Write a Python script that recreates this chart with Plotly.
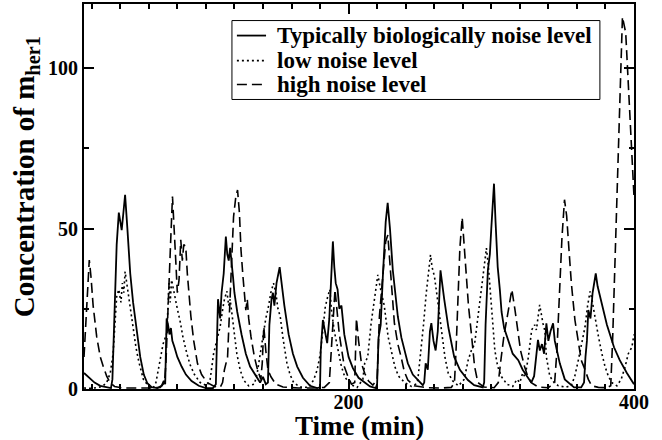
import plotly.graph_objects as go

# ---- data ----
t_typ = [14.6, 18, 22, 26, 30, 33.5, 34.5, 36, 37.5, 39, 40, 41, 42, 43.4, 45, 47, 49, 52, 54, 56.5, 59, 62, 66, 69, 70.5, 71.5,
         72.5, 73.5, 74.5, 75.5, 76.5, 78, 80, 83, 86, 90, 95, 100, 105, 107, 108.5, 110, 111, 112.5, 114, 115, 116, 117, 118,
         119, 120, 122, 125, 128, 131, 135, 138, 140, 142, 143.5, 144.5, 146, 147, 148, 149.5, 151.7, 153, 155, 158, 161, 164,
         168, 173, 178, 180, 180.5, 182, 183.5, 185, 186.5, 188, 189, 190, 191, 192.3, 193.5, 195, 197, 200, 203, 207, 211,
         215, 219, 220, 221, 222.5, 224, 226, 227.4, 229, 231, 234.5, 237, 241.5, 245, 248.5, 252, 253, 254, 255.5, 257, 258,
         259.5, 261, 262.5, 264.4, 265.5, 267, 270, 274, 278, 283.6, 288, 294, 295, 296, 297.6, 299, 300, 301.9, 303, 304.5,
         306, 307.2, 309, 312, 315, 318.9, 322, 325, 328, 330, 331.5, 332.7, 334, 335.5, 337, 338.6, 340, 341.5, 343.3, 344.5,
         346, 348, 351.5, 355, 358, 363, 365, 366, 367, 368, 369.5, 371, 373.2, 374.5, 376.7, 378.5, 381, 386, 390, 395, 400]
y_typ = [5.0, 3.5, 2.0, 1.0, 0.5, 0.3, 3, 25, 45, 55, 52, 49.5, 54, 60.5, 50, 36, 27, 16.5, 10, 4.5, 1.8, 0.6, 0.3, 1, 2.5, 1.5,
         22, 20, 17, 19, 15, 13, 10, 7, 4.5, 2.5, 1, 0.3, 0.3, 1.5, 28, 22, 30, 36, 47.5, 42, 40, 44, 38,
         35, 30, 24, 17, 11, 7, 4, 2, 3.8, 1.5, 2, 20, 28, 30, 26, 33, 38, 33, 26, 17, 11, 7,
         3.5, 1, 0.3, 0.5, 12, 21.5, 18, 14.3, 22, 38, 46, 38, 33, 31, 25, 26, 17, 10, 6.5, 3.5, 2,
         0.8, 0.3, 1.5, 16, 20, 35, 52, 58, 50, 37, 22.6, 16, 8, 4.5, 2.8, 1.2, 2, 8, 6, 18, 20.5,
         15, 12, 18, 37, 33, 28, 19, 10, 6, 2.8, 1.2, 0.5, 2, 20, 37, 42, 50, 64, 52, 38,
         31, 24, 19, 15, 11, 9, 6, 4, 2, 4, 10, 15.3, 12, 14, 11, 20.5, 15, 18, 20.5, 15,
         12, 8, 3, 1.5, 0.5, 0.5, 2, 10, 15, 24.6, 22, 30, 36, 32, 27.8, 25, 20, 13, 9, 5, 1.5]

t_low = [14.6, 20, 25, 28, 30.5, 33, 35, 36.5, 37.5, 39, 40.5, 41.5, 42.5, 43.4, 44.5, 46, 47.5, 49.2, 51, 53, 56.2, 60, 63, 65,
         67.9, 70, 72.6, 73.5, 74.2, 75, 76, 77.3, 78.5, 80, 82, 84, 86.7, 89, 92, 96, 100.7, 103, 105.4, 107, 108.5, 110,
         111.5, 113, 114.7, 116, 117, 118.5, 120, 121.7, 124, 126.4, 130, 134, 136, 138.1, 140.4, 142, 144, 145.5, 147.4, 149,
         150.5, 152.1, 154, 156.8, 159, 161.5, 166, 172, 175.5, 178, 180.2, 182, 183.7, 185.5, 186.9, 188, 190, 192.7, 195,
         197.3, 201, 206, 210, 211.3, 213.4, 215.8, 218, 220.5, 222, 223.5, 225, 227.7, 229.8, 232.4, 235, 239.4, 244, 247,
         248.5, 250.9, 252.5, 254.4, 256, 257.4, 258.5, 260.2, 262, 264, 265.5, 267.5, 269.8, 273, 277, 281, 283.8, 286, 288.3,
         290.7, 292.5, 294.5, 296.6, 298, 299, 300.5, 302.5, 304.5, 307.2, 311, 315, 318, 320, 322, 323.6, 326, 328.3, 330.4,
         331.6, 333.9, 335, 336.2, 337.6, 338.6, 341, 344, 347, 352, 356, 358.5, 361, 363.5, 365.7, 367.5, 369.2, 370.5, 372,
         375.1, 377.5, 379.7, 382, 384.4, 388, 391, 393.8, 396, 398.5, 400]
y_low = [0.3, 0.2, 0.5, 1, 2, 5, 11, 20, 28.8, 31, 27, 33, 30, 36.6, 33, 28, 23, 18.4, 13, 8.5, 3, 0.8, 0.3, 2,
         9, 14, 17.4, 26, 33, 27, 34, 31, 28, 25, 21, 16, 11, 7.5, 4.5, 2, 1, 3, 11, 14, 16, 19.4,
         24, 28, 30.5, 26, 28, 22, 16, 11, 6, 2.8, 1, 1.5, 5, 11, 18.4, 22, 26, 30, 33, 30,
         25, 22.6, 16, 8, 4.5, 2, 0.6, 0.5, 2.8, 6, 11, 18, 25.7, 29, 31, 24.6, 18, 12, 7,
         3.8, 1.5, 0.5, 3, 8, 10, 20.5, 28, 35.6, 32, 28.8, 26, 16.3, 12, 7, 4, 2, 0.8, 1.5,
         2.8, 12, 20, 29.8, 36, 41.8, 38, 35, 29, 22, 17, 10, 5, 2.5, 1, 3, 9, 12, 14,
         22.6, 30, 38, 43.9, 38, 32, 22, 12, 7, 3.8, 1.5, 0.8, 3, 2, 5, 3.8, 10, 18.4, 20,
         18.4, 26.2, 23, 20.5, 18, 10, 4, 2, 1, 0.6, 1, 4, 9, 14, 19.4, 26, 30.4, 28, 24,
         16.3, 11, 7, 4, 2, 1, 3, 7, 11, 13, 17]

t_high = [14.6, 16, 17.2, 18.3, 19.5, 21, 23.5, 26, 28.1, 30.5, 32.8, 36, 42, 50, 60, 68, 71, 72, 73, 74.5, 75.5, 76.6, 77.5,
          78.9, 80, 81.2, 82.4, 83.5, 84.5, 85.9, 87, 88, 89.5, 91.5, 94.1, 97, 101, 106, 110, 111.7, 113, 115.2, 116.3, 118,
          119.4, 121, 122.2, 123.5, 124.6, 126, 126.9, 128, 129, 130, 131.6, 134, 136.2, 138.5, 139.5, 140.6, 142, 143.5, 145.6,
          149, 154, 165, 175, 183, 186.5, 188, 189.3, 190.5, 192, 193.5, 194.9, 197, 199.6, 202, 204.3, 205.5, 207, 209, 211.3,
          214, 217, 220, 221.6, 223, 224.5, 226, 227.5, 229, 230.5, 232.1, 234.5, 236.8, 239, 241.5, 246, 255, 265, 272, 274.2,
          275.3, 276.5, 278, 279.6, 281, 282.5, 284, 286, 288.3, 290.6, 295, 302, 304.9, 307, 309, 311, 312.8, 314.4, 316.5,
          318.6, 320.5, 323.3, 325.5, 328, 333, 340, 344.4, 346, 347.9, 349.5, 351.3, 352.8, 354.5, 356.1, 358.6, 361, 363,
          365.7, 368, 370.4, 375, 381, 383.7, 385, 387.2, 389.6, 391.9, 394.2, 396.5, 398.9, 400]
y_high = [10, 22, 33, 40.2, 35, 26, 16.3, 10, 7, 4, 2, 0.8, 0.3, 0.2, 0.3, 0.5, 2, 8, 18, 35, 48, 60, 50,
          40, 30, 34, 46.5, 40, 45, 44.4, 36, 30, 22.6, 15, 8, 4.5, 2, 0.8, 0.5, 2, 6, 10, 22.6, 38,
          53.7, 60, 62, 55, 43.4, 35, 30.9, 24.6, 28, 22, 16.3, 10, 6, 3, 8, 19.4, 12, 6, 3.8,
          1.5, 0.6, 0.3, 0.3, 0.5, 2, 12, 24, 31, 24, 17, 13, 7, 3.8, 1.5, 2, 22, 15, 8, 4.9,
          2.5, 1.2, 3, 22.6, 30, 40, 46, 48, 40, 30, 20.5, 14, 10, 5.5, 2.8, 1, 0.4, 0.3, 0.5, 2,
          12, 27.8, 44, 53.5, 45, 33, 26, 17.4, 7, 2, 0.6, 0.4, 2, 10, 17, 22, 27, 31, 25,
          18.4, 12, 7, 4, 2, 0.6, 0.4, 2, 12, 33, 47, 59, 54, 43, 33, 21.5, 14, 9,
          6, 3, 1, 0.5, 0.4, 1, 15, 48.6, 79.7, 116, 111, 90, 69.3, 60]

names = ["Typically biologically noise level", "low noise level", "high noise level"]
x_ticks = [200, 400]
y_ticks = [0, 50, 100]
x_title = "Time (min)"
y_title = "Concentration of m<sub>her1</sub>"

FONT = "Liberation Serif, Times New Roman, serif"
styles = [dict(color="black", width=1.8),
          dict(color="black", width=1.6, dash="2px,3px"),
          dict(color="black", width=1.6, dash="10px,5px")]

fig = go.Figure()
for tx, ty, nm, st in zip([t_typ, t_low, t_high], [y_typ, y_low, y_high], names, styles):
    fig.add_trace(go.Scatter(x=tx, y=ty, mode="lines", name=nm, line=st, showlegend=False))

axis_common = dict(showline=True, linecolor="black", linewidth=2, mirror="allticks",
                   ticks="inside", ticklen=10, tickwidth=1.5, tickcolor="black",
                   showgrid=False, zeroline=False, automargin=False,
                   tickfont=dict(family=FONT, size=20, color="black", weight="bold"))

fig.update_xaxes(range=[14.6, 400], tickmode="array", tickvals=x_ticks,
                 ticktext=[str(v) for v in x_ticks], ticklabelstandoff=-6,
                 minor=dict(ticks="inside", ticklen=5, tickwidth=1.5, tickcolor="black", dtick=20, tick0=0),
                 **axis_common)
fig.update_yaxes(range=[0, 120], tickmode="array", tickvals=y_ticks,
                 ticktext=[str(v) for v in y_ticks],
                 minor=dict(ticks="inside", ticklen=5, tickwidth=1.5, tickcolor="black", dtick=25, tick0=0),
                 **axis_common)

# legend box drawn manually (paper coordinates)
box = dict(x0=0.269, x1=0.938, y0=0.752, y1=0.957)
rows = [0.918, 0.853, 0.791]
shapes = [dict(type="rect", xref="paper", yref="paper", layer="above",
               line=dict(color="black", width=1), fillcolor="white", **box)]
annotations = []
for r, nm, st in zip(rows, names, styles):
    shapes.append(dict(type="line", xref="paper", yref="paper", layer="above",
                       x0=0.278, x1=0.331, y0=r, y1=r, line=st))
    annotations.append(dict(xref="paper", yref="paper", x=0.347, y=r, xanchor="left", yanchor="middle",
                            text="<b>" + nm + "</b>", showarrow=False,
                            font=dict(family=FONT, size=23, color="black")))

# axis titles placed as text to match the reference positions
annotations.append(dict(xref="paper", yref="paper", x=-0.104, y=0.552, xanchor="center", yanchor="middle",
                        textangle=-90, showarrow=False, text="<b>" + y_title + "</b>",
                        font=dict(family=FONT, size=29, color="black")))
annotations.append(dict(xref="paper", yref="paper", x=0.5, y=-0.097, xanchor="center", yanchor="middle",
                        showarrow=False, text="<b>" + x_title + "</b>",
                        font=dict(family=FONT, size=27, color="black")))

fig.update_layout(
    width=662, height=440,
    margin=dict(l=84, r=28, t=4, b=51, autoexpand=False),
    paper_bgcolor="white", plot_bgcolor="white",
    font=dict(family=FONT, color="black"),
    showlegend=False,
    shapes=shapes, annotations=annotations,
)

fig.write_html("out.html", config={"displayModeBar": False},
               post_script="document.body.style.margin='0';document.body.style.overflow='hidden';")
